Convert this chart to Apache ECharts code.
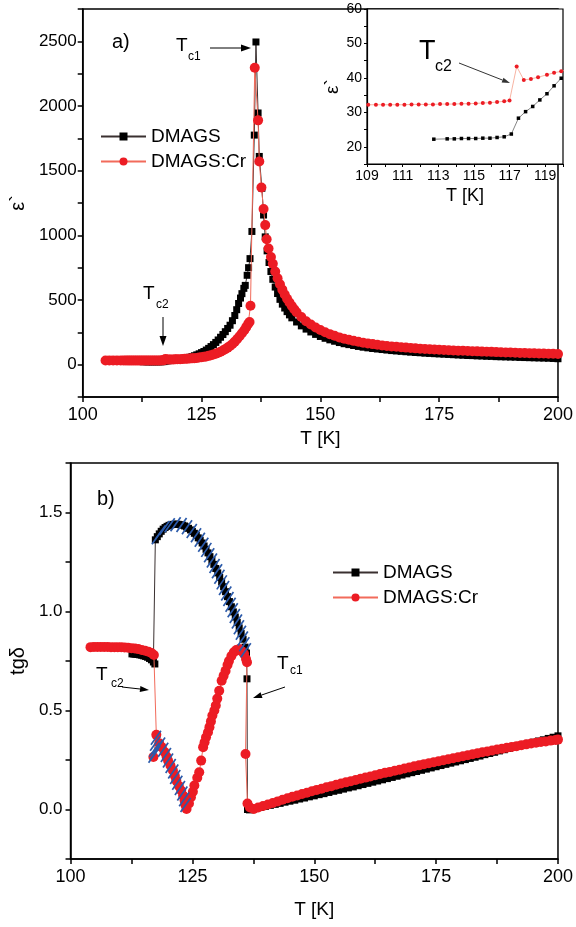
<!DOCTYPE html>
<html>
<head>
<meta charset="utf-8">
<script src="https://cdn.jsdelivr.net/npm/echarts@6.0.0/dist/echarts.min.js"></script>
<style>
  html, body { margin: 0; padding: 0; background: #fff; }
  #main { width: 576px; height: 927px; }
</style>
</head>
<body>
<div id="main"></div>
<script>
// eps' vs T, [T (K), eps']
var epsDmags = [
  [112.75,22.2],[113.5,22.3],[113.9,22.3],[114.3,22.4],[114.7,22.4],[115.1,22.4],[115.5,22.5],[115.9,22.5],
  [116.3,22.7],[116.7,22.9],[117.1,23.7],[117.5,28.3],[117.9,30.2],[118.3,31.7],[118.7,33.6],[119.1,35.4],
  [119.5,37.7],[119.9,39.9],[120.5,42],[121,45],[121.5,48],[122,52],[122.5,57],[123,62],[123.5,69],[124,76],
  [124.5,84],[125,93],[125.5,102],[126,113],[126.5,126],[127,140],[127.5,155],[128,172],[128.5,191],[129,212],
  [129.5,233],[130,255],[130.5,280],[131,305],[131.5,340],[132,380],[132.4,425],[132.8,473],[133.2,515],
  [133.5,549],[133.9,590],[134.2,613],[134.6,691],[134.9,750],[135.2,820],[135.6,1030],[136.1,1775],
  [136.45,2495],[136.9,1946],[137.15,1610],[137.7,1364],[138.05,1157],[138.4,988],[138.8,880],[139.2,790],
  [139.6,720],[140,660],[140.5,600],[141,550],[141.5,505],[142,468],[142.5,438],[143,410],[143.5,385],
  [144,362],[145,330],[146,300],[147,275],[148,253],[149,234],[150,218],[151,204],[152,192],[153,181],
  [154,171],[155,162],[156,155],[157,148],[158,141],[159,135],[160,130],[161,125],[162,121],[163,117],
  [164,113],[165,109],[166,106],[167,103],[168,100],[169,97],[170,94],[171,92],[172,89],[173,87],[174,85],
  [175,83],[176,81],[177,79],[178,77],[179,75],[180,73],[181,71],[182,70],[183,68],[184,67],[185,65],
  [186,64],[187,62],[188,61],[189,60],[190,59],[191,58],[192,56],[193,55],[194,54],[195,53],[196,52],
  [197,51],[198,50],[199,48],[200,46]
];
var epsCr = [
  [104.8,32],[105.6,32.1],[106.4,32.1],[107.2,32.1],[108,32.2],[108.6,32.2],[109.07,32.2],[109.5,32.2],
  [109.9,32.2],[110.3,32.2],[110.7,32.2],[111.1,32.2],[111.5,32.3],[111.9,32.3],[112.3,32.3],[112.7,32.3],
  [113.1,32.4],[113.5,32.4],[113.9,32.4],[114.3,32.5],[114.7,32.5],[115.1,32.6],[115.5,32.7],[115.9,32.8],
  [116.3,33],[116.7,33.2],[117,33.4],[117.4,43.3],[117.8,39.4],[118.2,39.7],[118.6,40.2],[119.1,40.9],
  [119.5,41.5],[119.9,41.9],[120.5,42.8],[121,43.8],[121.5,44.8],[122,46],[122.5,47.3],[123,48.8],
  [123.5,50.5],[124,52.5],[124.5,54.8],[125,57.5],[125.5,60.5],[126,64],[126.5,68],[127,73],[127.5,78.5],
  [128,85],[128.5,92],[129,100],[129.5,109],[130,120],[130.5,132],[131,145],[131.5,160],[132,178],
  [132.5,198],[133,220],[133.5,243],[134,266],[134.4,290],[134.8,315],[135.1,330],[135.3,455],[136.2,2296],
  [136.9,1889],[137.15,1571],[137.6,1370],[138.05,1203],[138.4,1079],[138.7,970],[139.1,898],[139.6,833],
  [140,780],[140.5,720],[141,668],[141.5,622],[142,580],[142.5,543],[143,510],[143.5,480],[144,453],
  [144.5,428],[145,405],[146,368],[147,336],[148,310],[149,288],[150,268],[151,251],[152,236],[153,223],
  [154,211],[155,201],[156,192],[157,184],[158,177],[159,170],[160,164],[161,159],[162,154],[163,149],
  [164,145],[165,141],[166,138],[167,135],[168,132],[169,129],[170,126],[171,124],[172,121],[173,119],
  [174,117],[175,115],[176,113],[177,111],[178,110],[179,108],[180,107],[181,105],[182,104],[183,103],
  [184,101],[185,100],[186,99],[187,97],[188,96],[189,95],[190,94],[191,93],[192,91],[193,90],[194,89],
  [195,88],[196,87],[197,86],[198,85],[199,84],[200,83]
];
// tg(delta) vs T, [T (K), tg delta]
var tgDmags = [
  [112.6,0.786],[113,0.785],[113.4,0.784],[113.8,0.783],[114.2,0.781],[114.6,0.779],[115,0.776],[115.4,0.773],
  [115.8,0.769],[116.2,0.763],[116.6,0.756],[117,0.745],[117.3,0.735],[117.4,1.362],[117.8,1.378],[118.2,1.392],
  [118.6,1.405],[119,1.416],[119.4,1.424],[119.8,1.43],[120.2,1.435],[120.6,1.438],[121,1.44],[121.4,1.441],
  [121.8,1.441],[122.2,1.44],[122.6,1.438],[123,1.436],[123.4,1.432],[123.8,1.427],[124.2,1.42],[124.6,1.412],
  [125,1.404],[125.4,1.395],[125.8,1.384],[126.2,1.372],[126.6,1.36],[127,1.346],[127.4,1.331],[127.8,1.314],
  [128.2,1.296],[128.6,1.277],[129,1.258],[129.4,1.238],[129.8,1.217],[130.2,1.195],[130.6,1.172],[131,1.149],
  [131.4,1.125],[131.8,1.1],[132.2,1.075],[132.6,1.05],[133,1.024],[133.4,0.998],[133.8,0.972],[134.2,0.945],
  [134.6,0.917],[135,0.889],[135.4,0.86],[135.8,0.82],[136.1,0.79],[136.2,0.66],[136.3,0.0],[136.7,-0.002],
  [137,0.0],[138,0.005],[139,0.01],[140,0.016],[141,0.021],[142,0.026],[143,0.031],[144,0.037],[145,0.042],
  [146,0.047],[147,0.053],[148,0.058],[149,0.064],[150,0.069],[151,0.075],[152,0.08],[153,0.086],[154,0.092],
  [155,0.097],[156,0.103],[157,0.109],[158,0.114],[159,0.12],[160,0.126],[161,0.132],[162,0.138],[163,0.144],
  [164,0.15],[165,0.156],[166,0.162],[167,0.168],[168,0.174],[169,0.18],[170,0.186],[171,0.192],[172,0.198],
  [173,0.204],[174,0.21],[175,0.216],[176,0.222],[177,0.228],[178,0.234],[179,0.24],[180,0.246],[181,0.252],
  [182,0.258],[183,0.264],[184,0.27],[185,0.277],[186,0.283],[187,0.289],[188,0.296],[189,0.302],[190,0.308],
  [191,0.315],[192,0.321],[193,0.327],[194,0.334],[195,0.34],[196,0.346],[197,0.352],[198,0.359],[199,0.365],
  [200,0.372]
];
var tgCr = [
  [104.1,0.82],[104.8,0.821],[105.5,0.821],[106.2,0.821],[106.9,0.821],[107.6,0.821],[108.3,0.82],[109,0.82],
  [109.7,0.82],[110.4,0.819],[111.1,0.818],[111.8,0.817],[112.5,0.815],[113.2,0.813],[113.9,0.81],[114.6,0.806],
  [115.3,0.802],[116,0.797],[116.6,0.79],[117.1,0.78],[117.6,0.377],[117.0,0.265],[118.2,0.335],[118.7,0.315],
  [119.3,0.29],[119.7,0.268],[120,0.247],[120.5,0.222],[121,0.197],[121.4,0.17],[121.7,0.146],[122.2,0.12],
  [122.7,0.096],[123.1,0.07],[123.4,0.045],[123.6,0.022],[123.8,0.003],[124.3,0.03],[124.7,0.062],[125.1,0.09],
  [125.4,0.121],[126,0.16],[126.4,0.188],[126.8,0.247],[127.2,0.315],[127.5,0.34],[127.8,0.365],[128.2,0.39],
  [128.5,0.416],[128.8,0.445],[129.1,0.475],[129.5,0.5],[129.8,0.525],[130.1,0.56],[130.5,0.6],[131,0.65],
  [131.4,0.675],[131.8,0.7],[132.2,0.73],[132.5,0.75],[133,0.775],[133.5,0.794],[134,0.805],[134.6,0.81],
  [135.1,0.8],[135.6,0.786],[136,0.76],[136.2,0.744],[135.9,0.28],[136.3,0.03],[136.8,0.01],[137.6,0.003],
  [138.5,0.01],[139.5,0.018],[140.5,0.025],[141.5,0.033],[142.5,0.041],[143.5,0.049],[144.5,0.057],[145.5,0.064],
  [146.5,0.071],[147.5,0.078],[148.5,0.085],[149.5,0.092],[150.5,0.099],[151.5,0.105],[152.5,0.112],[153.5,0.118],
  [154.5,0.125],[155.5,0.131],[156.5,0.137],[157.5,0.143],[158.5,0.149],[159.5,0.155],[160.5,0.161],[161.5,0.167],
  [162.5,0.173],[163.5,0.179],[164.5,0.185],[165.5,0.19],[166.5,0.196],[167.5,0.201],[168.5,0.207],[169.5,0.212],
  [170.5,0.218],[171.5,0.223],[172.5,0.229],[173.5,0.234],[174.5,0.239],[175.5,0.244],[176.5,0.249],[177.5,0.254],
  [178.5,0.259],[179.5,0.264],[180.5,0.269],[181.5,0.274],[182.5,0.279],[183.5,0.284],[184.5,0.289],[185.5,0.293],
  [186.5,0.298],[187.5,0.303],[188.5,0.307],[189.5,0.312],[190.5,0.316],[191.5,0.32],[192.5,0.325],[193.5,0.329],
  [194.5,0.333],[195.5,0.337],[196.5,0.341],[197.5,0.344],[198.5,0.348],[199.5,0.351],[200,0.353]
];
var seriesNames = ['DMAGS', 'DMAGS:Cr'];

// hatched parts of the tg curves (taken from the data above)
var hatchParts = [
  tgDmags.filter(function (p) { return p[0] >= 117.4 && p[0] <= 136.1 && p[1] > 0.78; }),
  tgCr.filter(function (p) { return p[0] >= 117.0 && p[0] <= 123.8 && p[1] < 0.5; })
];

var FONT = 'Liberation Sans, Arial, sans-serif';
var myChart = echarts.init(document.getElementById('main'));

function arrow(x1, y1, x2, y2, len, w, color) {
  var a = Math.atan2(y2 - y1, x2 - x1);
  var bx = x2 - len * Math.cos(a), by = y2 - len * Math.sin(a);
  return [
    { type: 'line', shape: { x1: x1, y1: y1, x2: bx, y2: by }, style: { stroke: color, lineWidth: 1 } },
    { type: 'polygon', shape: { points: [[x2, y2], [bx - w * Math.sin(a), by + w * Math.cos(a)], [bx + w * Math.sin(a), by - w * Math.cos(a)]] },
      style: { fill: color } }
  ];
}
function label(x, y, t, size) {
  return { type: 'text', x: x, y: y, style: { text: t, fontSize: size, fontFamily: FONT, fill: '#000' } };
}

function xAxisMain(grid, nameGap) {
  return {
    gridIndex: grid, type: 'value', min: 100, max: 200, interval: 12.5,
    axisLine: { onZero: false, lineStyle: { color: '#000', width: 1.5 } },
    axisTick: { length: 5, lineStyle: { color: '#000', width: 1.5 } },
    axisLabel: { color: '#000', fontSize: 18, fontFamily: FONT, margin: 9,
      formatter: function (v) { return v % 25 === 0 ? String(v) : ''; } },
    splitLine: { show: false },
    name: 'T [K]', nameLocation: 'middle', nameGap: nameGap,
    nameTextStyle: { color: '#000', fontSize: 19, fontFamily: FONT }
  };
}

var hatchSeries = {
  type: 'custom', xAxisIndex: 2, yAxisIndex: 2, z: 6, silent: true, clip: false,
  data: [[150, 0], [150, 0]],
  renderItem: function (params, api) {
    var pts = hatchParts[params.dataIndex].map(function (p) { return api.coord(p); });
    var children = [], step = 6, acc = step / 2;
    for (var i = 1; i < pts.length; i++) {
      var dx = pts[i][0] - pts[i - 1][0], dy = pts[i][1] - pts[i - 1][1];
      var seg = Math.sqrt(dx * dx + dy * dy), d = acc;
      while (d <= seg) {
        var x = pts[i - 1][0] + dx * d / seg, y = pts[i - 1][1] + dy * d / seg;
        children.push({ type: 'line', shape: { x1: x - 5, y1: y + 7, x2: x + 5, y2: y - 7 },
          style: { stroke: '#2b5aaa', lineWidth: 1.7 } });
        d += step;
      }
      acc = d - seg;
    }
    return { type: 'group', children: children };
  }
};

var option = {
  animation: false,
  backgroundColor: '#fff',
  textStyle: { fontFamily: FONT },
  grid: [
    { left: 82, top: 9, width: 481, height: 388, show: true, borderColor: '#000', borderWidth: 1.5 },
    { left: 367, top: 9, width: 196, height: 155, show: true, borderColor: '#000', borderWidth: 1.2, backgroundColor: '#fff' },
    { left: 70, top: 463, width: 493, height: 396, show: true, borderColor: '#000', borderWidth: 1.5 }
  ],
  legend: [
    { data: seriesNames, orient: 'vertical', left: 95, top: 122, itemWidth: 45, itemHeight: 10, itemGap: 6,
      textStyle: { fontSize: 19, lineHeight: 19, color: '#000', fontFamily: FONT } },
    { data: seriesNames, orient: 'vertical', left: 327, top: 558, itemWidth: 45, itemHeight: 10, itemGap: 6,
      textStyle: { fontSize: 19, lineHeight: 19, color: '#000', fontFamily: FONT } }
  ],
  xAxis: [
    xAxisMain(0, 32),
    { gridIndex: 1, type: 'value', min: 109, max: 120, interval: 1,
      axisLine: { onZero: false, lineStyle: { color: '#000', width: 1.2 } },
      axisTick: { length: 3, lineStyle: { color: '#000' } },
      axisLabel: { color: '#000', fontSize: 14, fontFamily: FONT, margin: 5,
        formatter: function (v) { return v % 2 === 1 ? String(v) : ''; } },
      splitLine: { show: false },
      name: 'T [K]', nameLocation: 'middle', nameGap: 23,
      nameTextStyle: { color: '#000', fontSize: 18, fontFamily: FONT } },
    xAxisMain(2, 41)
  ],
  yAxis: [
    { gridIndex: 0, type: 'value', min: -250, max: 2750, interval: 250,
      axisLine: { onZero: false, lineStyle: { color: '#000', width: 1.5 } },
      axisTick: { length: 5, lineStyle: { color: '#000', width: 1.5 } },
      axisLabel: { color: '#000', fontSize: 17, fontFamily: FONT, margin: 6,
        formatter: function (v) { return v % 500 === 0 ? String(v) : ''; } },
      splitLine: { show: false },
      name: 'ε`', nameLocation: 'middle', nameGap: 50,
      nameTextStyle: { color: '#000', fontSize: 20, fontFamily: FONT } },
    { gridIndex: 1, type: 'value', min: 15, max: 60, interval: 5,
      axisLine: { onZero: false, lineStyle: { color: '#000', width: 1.2 } },
      axisTick: { length: 3, lineStyle: { color: '#000' } },
      axisLabel: { color: '#000', fontSize: 14, fontFamily: FONT, margin: 5,
        formatter: function (v) { return v % 10 === 0 ? String(v) : ''; } },
      splitLine: { show: false },
      name: 'ε`', nameLocation: 'middle', nameGap: 24,
      nameTextStyle: { color: '#000', fontSize: 19, fontFamily: FONT } },
    { gridIndex: 2, type: 'value', min: -0.25, max: 1.75, interval: 0.25,
      axisLine: { onZero: false, lineStyle: { color: '#000', width: 1.5 } },
      axisTick: { length: 5, lineStyle: { color: '#000', width: 1.5 } },
      axisLabel: { color: '#000', fontSize: 17, fontFamily: FONT, margin: 8,
        formatter: function (v) { return Math.abs(v * 2 - Math.round(v * 2)) < 1e-6 ? v.toFixed(1) : ''; } },
      splitLine: { show: false },
      name: 'tgδ', nameLocation: 'middle', nameGap: 32,
      nameTextStyle: { color: '#000', fontSize: 20, fontFamily: FONT } }
  ],
  series: [
    { name: 'DMAGS', type: 'line', xAxisIndex: 0, yAxisIndex: 0, data: epsDmags,
      symbol: 'rect', symbolSize: 7, itemStyle: { color: '#000' }, lineStyle: { color: '#3a3030', width: 1 }, z: 2 },
    { name: 'DMAGS:Cr', type: 'line', xAxisIndex: 0, yAxisIndex: 0, data: epsCr,
      symbol: 'circle', symbolSize: 10, itemStyle: { color: '#ec1c24' }, lineStyle: { color: '#f26b5b', width: 1 }, z: 3 },
    { name: 'DMAGS inset', type: 'line', xAxisIndex: 1, yAxisIndex: 1, data: epsDmags,
      symbol: 'rect', symbolSize: 3.5, itemStyle: { color: '#000' }, lineStyle: { color: '#666', width: 0.8 }, z: 2 },
    { name: 'DMAGS:Cr inset', type: 'line', xAxisIndex: 1, yAxisIndex: 1, data: epsCr,
      symbol: 'circle', symbolSize: 4, itemStyle: { color: '#ec1c24' }, lineStyle: { color: '#f5a08a', width: 0.8 }, z: 3 },
    { name: 'DMAGS', type: 'line', xAxisIndex: 2, yAxisIndex: 2, data: tgDmags,
      symbol: 'rect', symbolSize: 7, itemStyle: { color: '#000' }, lineStyle: { color: '#3a3030', width: 1 }, z: 2 },
    { name: 'DMAGS:Cr', type: 'line', xAxisIndex: 2, yAxisIndex: 2, data: tgCr,
      symbol: 'circle', symbolSize: 10, itemStyle: { color: '#ec1c24' }, lineStyle: { color: '#f26b5b', width: 1 }, z: 3 },
    hatchSeries
  ],
  graphic: [
    label(112, 32, 'a)', 20),
    label(176, 36, 'T', 19), label(188, 51, 'c1', 12)
  ].concat(arrow(210, 48, 251, 48, 10, 3.5, '#000'))
   .concat([label(143, 284, 'T', 19), label(156, 299, 'c2', 12)])
   .concat(arrow(163, 317, 163, 346, 10, 3.5, '#000'))
   .concat([label(419, 38, 'T', 27), label(435, 59, 'c2', 16)])
   .concat(arrow(459, 63, 510, 83, 8, 2.5, '#333'))
   .concat([label(97, 489, 'b)', 20)])
   .concat([label(96, 665, 'T', 19), label(111, 678, 'c2', 12)])
   .concat(arrow(122, 687, 149, 690, 9, 3, '#000'))
   .concat([label(277, 654, 'T', 19), label(290, 665, 'c1', 12)])
   .concat(arrow(285, 687, 253, 698, 9, 3, '#000'))
};

myChart.setOption(option);
</script>
</body>
</html>
